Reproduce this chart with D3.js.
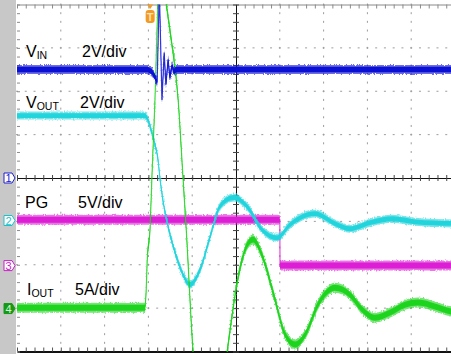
<!DOCTYPE html>
<html>
<head>
<meta charset="utf-8">
<script src="https://cdn.jsdelivr.net/npm/d3@7"></script>
<style>
  body { margin: 0; background: #fff; }
  svg { display: block; font-family: "Liberation Sans", Arial, sans-serif; }
</style>
</head>
<body>
<div id="app"></div>
<script>
// all traces in screen divisions: [time div (0..10), level div (-4..4)]
const vinTrace = [[0, 2.50], [2.99, 2.50], [3.08, 2.45], [3.15, 2.33], [3.20, 2.20], [3.25, 4.34],
    [3.31, 1.80], [3.36, 2.89], [3.40, 2.15], [3.45, 2.73], [3.49, 2.31], [3.54, 2.61],
    [3.58, 2.45], [3.63, 2.50], [10, 2.50]];

const voutTrace = [[0, 1.44], [2.92, 1.44], [2.99, 1.34], [3.08, 1.04], [3.15, 0.77], [3.22, 0.42],
    [3.26, 0.03], [3.33, -0.50], [3.45, -1.12], [3.61, -1.72], [3.77, -2.18], [3.95, -2.46],
    [4.18, -2.11], [4.41, -1.35], [4.63, -0.66], [4.95, -0.45], [5.27, -0.68], [5.59, -1.19],
    [5.94, -1.38], [6.23, -1.08], [6.80, -0.82], [7.26, -1.05], [7.60, -1.17], [8.06, -1.03],
    [8.58, -0.94], [9.09, -1.01], [10, -1.05]];

const pgTrace = [[0, -0.96], [6.00, -0.96], [6.005, -2.02], [10, -2.02]];

const ioutTrace = [[0, -2.99], [2.92, -2.99], [2.95, -2.57], [2.97, -1.99], [3.04, -1.12], [3.08, 0.01],
    [3.15, 1.80], [3.22, 4.02], [3.31, 4.80], [3.38, 4.22], [3.49, 3.42], [3.68, 1.80],
    [3.79, 0.01], [3.86, -1.12], [4.02, -4.00], [4.18, -5.57], [4.43, -6.03], [4.63, -5.34],
    [4.80, -4.00], [5.04, -2.34], [5.21, -1.65], [5.39, -1.42], [5.59, -1.77], [5.89, -2.80],
    [6.12, -3.61], [6.35, -3.84], [6.58, -3.61], [6.87, -2.92], [7.26, -2.53], [7.60, -2.69],
    [7.88, -3.03], [8.17, -3.22], [8.52, -3.10], [8.86, -2.92], [9.16, -2.87], [9.54, -2.96],
    [9.91, -3.08], [10, -3.10]];

// channel ground markers (level in div)
const channelNames = ["1", "2", "3", "4"];
const channelLevels = [0, -0.98, -2.02, -3.01];

// label texts: main, subscript, scale
const labelMain = ["V", "V", "PG", "I"];
const labelSub = ["IN", "OUT", "", "OUT"];
const labelScale = ["2V/div", "2V/div", "5V/div", "5A/div"];

const triggerTime = 3.04;

drawScope();

function drawScope() {
    let width = 451;
    let height = 354;

    let svg = d3.select("#app")
        .append("svg")
            .attr("width", width)
            .attr("height", height);

    let x = d3.scaleLinear().domain([0, 10]).range([17, 455]);
    let y = d3.scaleLinear().domain([-4, 4]).range([351.5, 4.5]);

    let defs = svg.append("defs");
    defs.append("clipPath").attr("id", "screen")
        .append("rect")
            .attr("x", 17).attr("y", 4.5)
            .attr("width", 438).attr("height", 347);

    let noise = defs.append("filter").attr("id", "noise")
        .attr("x", "-5%").attr("y", "-20%").attr("width", "110%").attr("height", "140%");
    noise.append("feTurbulence")
        .attr("type", "fractalNoise")
        .attr("baseFrequency", "0.9 0.5")
        .attr("numOctaves", 1)
        .attr("seed", 3)
        .attr("result", "t");
    noise.append("feDisplacementMap")
        .attr("in", "SourceGraphic").attr("in2", "t")
        .attr("scale", 4)
        .attr("xChannelSelector", "R").attr("yChannelSelector", "G");

    // grey strip on the left
    svg.append("rect")
        .attr("x", 0).attr("y", 0)
        .attr("width", 16).attr("height", height)
        .attr("fill", "#c8c8c8");

    // dotted graticule
    let minor = d3.range(0, 10.001, 0.2);
    let minorY = d3.range(-4, 4.001, 0.2);
    let grid = svg.append("g").attr("fill", "#9c9c9c");
    [1, 2, 3, 4, 6, 7, 8, 9].forEach(function(xi) {
        grid.selectAll(null).data(minorY).enter().append("rect")
            .attr("x", x(xi) - 0.5).attr("y", d => y(d) - 1)
            .attr("width", 1).attr("height", 2);
    });
    [-3, -2, -1, 1, 2, 3].forEach(function(yi) {
        grid.selectAll(null).data(minor).enter().append("rect")
            .attr("x", d => x(d) - 1).attr("y", y(yi) - 0.5)
            .attr("width", 2).attr("height", 1);
    });

    // frame edges with ticks
    let top = svg.append("g")
        .attr("transform", "translate(0," + y(4) + ")")
        .call(d3.axisBottom(x).tickValues(minor).tickSize(4).tickSizeOuter(0).tickFormat(""));
    top.selectAll("line").attr("stroke", "#8a8a8a");
    top.select(".domain").attr("stroke", "#8a8a8a");

    let bottom = svg.append("g")
        .attr("transform", "translate(0," + y(-4) + ")")
        .call(d3.axisTop(x).tickValues(minor).tickSize(4).tickSizeOuter(0).tickFormat(""));
    bottom.selectAll("line").attr("stroke", "#555");
    bottom.select(".domain").attr("stroke", "#111").attr("stroke-width", 2);

    let left = svg.append("g")
        .attr("transform", "translate(" + x(0) + ",0)")
        .call(d3.axisRight(y).tickValues(minorY).tickSize(3).tickSizeOuter(0).tickFormat(""));
    left.selectAll("line").attr("stroke", "#8a8a8a");
    left.select(".domain").attr("stroke", "none");

    // centre cross
    let hAxis = svg.append("g")
        .attr("transform", "translate(0," + y(0) + ")")
        .call(d3.axisBottom(x).tickValues(minor).tickSizeOuter(0).tickFormat(""));
    hAxis.selectAll(".tick line").attr("y1", -3).attr("y2", 3).attr("stroke", "#444");
    hAxis.select(".domain").attr("stroke", "#111");

    let vAxis = svg.append("g")
        .attr("transform", "translate(" + x(5) + ",0)")
        .call(d3.axisLeft(y).tickValues(minorY).tickSizeOuter(0).tickFormat(""));
    vAxis.selectAll(".tick line").attr("x1", -3).attr("x2", 3).attr("stroke", "#444");
    vAxis.select(".domain").attr("stroke", "#111");

    // labels
    let labelX = [26, 26, 25, 27];
    let labelY = [57, 108, 208, 295];
    let scaleX = [82, 80, 78, 75];
    let labels = svg.append("g").attr("fill", "#000");
    labelMain.forEach(function(m, i) {
        let t = labels.append("text")
            .attr("x", labelX[i]).attr("y", labelY[i])
            .attr("font-size", 16);
        t.append("tspan").text(m);
        if (labelSub[i]) {
            t.append("tspan").attr("font-size", 10.5).attr("dy", 1.5).text(labelSub[i]);
        }
        labels.append("text")
            .attr("x", scaleX[i]).attr("y", labelY[i])
            .attr("font-size", 16)
            .text(labelScale[i]);
    });

    // traces
    let traces = svg.append("g").attr("clip-path", "url(#screen)");
    drawTrace(traces, pgTrace, "#dc1ed4", 5, d3.curveLinear);
    drawTrace(traces, voutTrace, "#22d4dc", 4, d3.curveMonotoneX);
    drawTrace(traces, ioutTrace, "#1ed41e", 5, d3.curveMonotoneX);
    drawTrace(traces, vinTrace, "#0a10d4", 4.5, d3.curveLinear);

    function drawTrace(g, pts, color, hw, curve) {
        let outer = d3.area()
            .x(d => x(d[0]))
            .y0(d => y(d[1]) - hw)
            .y1(d => y(d[1]) + hw)
            .curve(curve);
        let inner = d3.area()
            .x(d => x(d[0]))
            .y0(d => y(d[1]) - hw * 0.6)
            .y1(d => y(d[1]) + hw * 0.6)
            .curve(curve);
        let line = d3.line()
            .x(d => x(d[0]))
            .y(d => y(d[1]))
            .curve(curve);
        g.append("path").attr("d", outer(pts))
            .attr("fill", color).attr("opacity", 0.6)
            .attr("filter", "url(#noise)");
        g.append("path").attr("d", inner(pts))
            .attr("fill", color);
        g.append("path").attr("d", line(pts))
            .attr("fill", "none").attr("stroke", color)
            .attr("stroke-width", 1.2).attr("opacity", 0.8);
    }

    // channel markers on the left strip
    let markerColor = ["#2020d0", "#18c4cc", "#c81ec8", "#169a16"];
    let markers = svg.append("g");
    channelNames.forEach(function(n, i) {
        let cy = y(channelLevels[i]);
        let filled = i == 3;
        markers.append("path")
            .attr("d", "M4," + (cy - 5) + "H12L15," + cy + "L12," + (cy + 5) + "H4Z")
            .attr("fill", filled ? markerColor[i] : "#fff")
            .attr("stroke", markerColor[i])
            .attr("stroke-width", 1);
        markers.append("text")
            .attr("x", 8.5).attr("y", cy + 4)
            .attr("text-anchor", "middle")
            .attr("font-size", 11)
            .attr("fill", filled ? "#d8ffd8" : markerColor[i])
            .text(n);
    });

    // trigger marker
    let tx = x(triggerTime);
    let trig = svg.append("g").attr("fill", "#f29a22");
    trig.append("path")
        .attr("d", "M" + (tx - 3) + ",4.5H" + (tx + 3) + "L" + tx + ",9Z");
    trig.append("rect")
        .attr("x", tx - 4.5).attr("y", 10)
        .attr("width", 9).attr("height", 13).attr("rx", 3);
    trig.append("text")
        .attr("x", tx).attr("y", 21)
        .attr("text-anchor", "middle")
        .attr("font-size", 11).attr("font-weight", "bold")
        .attr("fill", "#ffe2b8")
        .text("T");
}
</script>
</body>
</html>
